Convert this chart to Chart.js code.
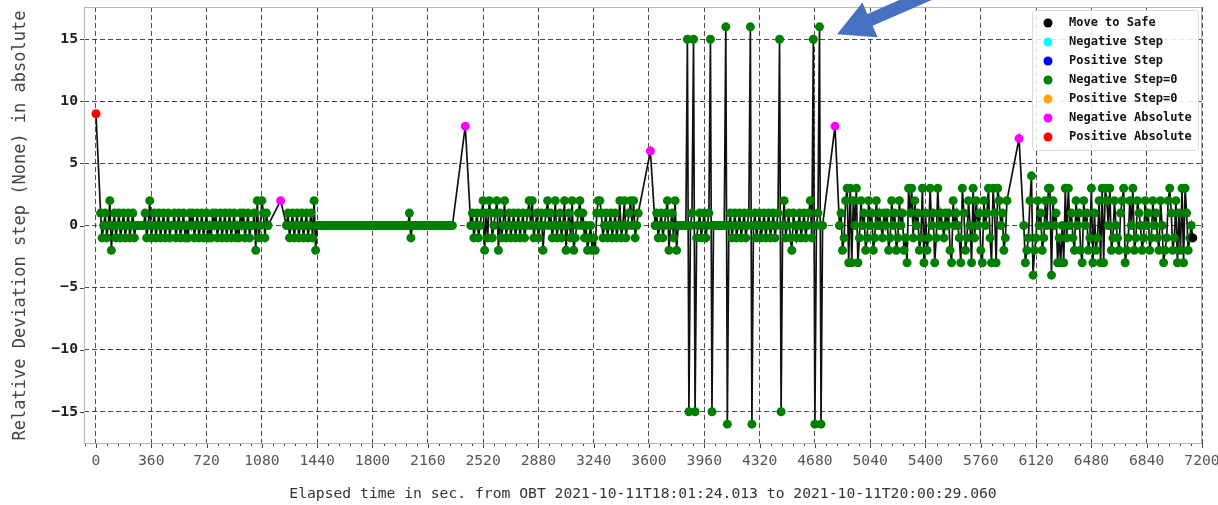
<!DOCTYPE html>
<html>
<head>
<meta charset="utf-8">
<title>Relative Deviation step</title>
<script src="https://cdn.jsdelivr.net/npm/chart.js@4.4.0/dist/chart.umd.min.js"></script>
<style>
  html, body { margin: 0; padding: 0; background: #fff; }
  #chart { display: block; }
</style>
</head>
<body>
<canvas id="chart" width="1218" height="505"></canvas>
<script>
/* ══════════════════════════════════════
   Relative deviation step vs elapsed time
   ══════════════════════════════════════ */

// ── Data ──
const SAMPLE_STEP = 10; // s between samples inside a block

const xTicks = [0, 360, 720, 1080, 1440, 1800, 2160, 2520, 2880, 3240, 3600,
                3960, 4320, 4680, 5040, 5400, 5760, 6120, 6480, 6840, 7200];
const yTicks = [-15, -10, -5, 0, 5, 10, 15];

// special points
const posAbsTimes  = [0];
const posAbsValues = [9];
const negAbsTimes  = [1202, 2404, 3609, 4811, 6009];
const negAbsValues = [2, 8, 6, 8, 7];
const safeTimes    = [7140];
const safeValues   = [-1];

// "Negative Step=0" samples, one block per busy period
const blockAStart = 30;
const blockA = [
  1, -1, 0, 1, -1, 0, 2, -2, 0, 1,
  -1, 0, 1, -1, 0, 1, -1, 0, 1, -1,
  0, 1, -1, 0, 0, 0, 0, 0, 0, 1,
  -1, 0, 2, -1, 0, 1, -1, 0, 1, -1,
  0, 1, -1, 0, 1, -1, 0, 0, 1, -1,
  0, 1, -1, 0, 1, -1, 0, -1, 1, 0,
  1, -1, 0, 1, -1, 0, 1, -1, 0, 1,
  -1, 0, -1, 1, 0, 1, -1, 0, 1, -1,
  0, 1, -1, 0, 1, -1, 0, 1, -1, 0,
  -1, 1, 0, 1, -1, 0, 1, -1, 0, 0,
  1, -2, 2, -1, 0, 2, 1, -1, 1, 0,
];

const blockBStart = 1240;
const blockB = [
  0, 1, -1, 0, 1, -1, 0, 1, -1, 0,
  1, -1, 0, 1, -1, 0, 1, -1, 2, -2,
  0,
];

const blockCStart = 1450;
const blockC = [
  0, 0, 0, 0, 0, 0, 0, 0, 0, 0, 0, 0, 0, 0, 0, 0, 0, 0, 0, 0,
  0, 0, 0, 0, 0, 0, 0, 0, 0, 0, 0, 0, 0, 0, 0, 0, 0, 0, 0, 0,
  0, 0, 0, 0, 0, 0, 0, 0, 0, 0, 0, 0, 0, 0, 0, 0, 0, 0, 0, 1, -1,
  0, 0, 0, 0, 0, 0, 0, 0, 0, 0, 0, 0, 0, 0, 0, 0, 0, 0, 0, 0,
  0, 0, 0, 0, 0, 0, 0,
];

const blockDStart = 2440;
const blockD = [
  0, 1, -1, 0, 1, -1, 0, 1, 2, -2,
  1, -1, 2, 1, -1, 0, 1, 2, -2, 1,
  -1, 0, 2, -1, 0, 1, -1, 0, 1, -1,
  0, 1, -1, 0, 1, -1, 0, 1, 2, 0,
  2, -1, 0, 1, -1, 0, 1, -2, 0, 1,
  2, 0, 1, -1, 0, 2, -1, 0, 1, -1,
  0, 2, -2, 0, 1, -1, 2, -2, -1, 0,
  1, 2, 0, 1, -1, 0, -2, -1, 0, -2,
  -1, -2, 1, 2, 2, 1, -1, 0, 1, -1,
  0, 1, -1, 0, 1, -1, 0, 2, -1, 0,
  2, -1, 0, 1, 2, 0, 2, -1, 0, 1,
];

const blockD2Start = 3640;
const blockD2 = [0, 1, -1, 0, 1, -1, 0, 1, 2, -2, 0, 1, -1, 2, -2, 0];

const blockEStart = 3800;
const blockE = [
  0, 0, 0, 0, 0, 15, -15, 0, 1, 15,
  -15, -1, 0, 1, -1, 0, 1, -1, 0, 1,
  15, -15, 0, 0, 0, 0, 0, 0, 0, 0,
  16, -16, 0, 1, -1, 0, 1, -1, 0, 1,
  -1, 0, 1, -1, 0, 1, 16, -16, 0, 1,
  -1, 0, 1, -1, 0, 1, -1, 0, 1, -1,
  0, 1, -1, 0, 1, 15, -15, 0, 2, -1,
  0, 1, -1, -2, 1, 0, -1, 0, 1, -1,
  0, 1, -1, 0, 1, 2, -1, 15, -16, 0,
  1, 16, -16, 0,
];

const blockFStart = 4840;
const blockF = [
  0, 1, -2, -1, 2,   3, -3, 3, -3, 2,   0, 3, -3, -1, 2,   0, 1, -2, -1, 2,   0, 1, -2, -1, 2,
  0, 1, 0, -1, 1,    0, 1, -2, -1, 2,   0, 1, -2, -1, 2,   0, 1, -2, -1, -3,  3, 1, 3, -1, 2,
  0, 1, -2, -1, 3,   -3, 1, -2, -1, 3,  0, 1, -3, -1, 3,   0, 1, 0, -1, 1,    0, 1, -2, -3, 2,
  0, 1, 0, -1, -3,   3, 1, -2, -1, 2,   0, -3, 3, -1, 2,   0, 1, -2, -3, 2,   0, 1, 3, -1, -3,
  3, 1, -3, 3, 2,    0, 1, -2, -1, 2,
];

const blockGStart = 6040;
const blockG = [
  0, -3, -2, -1, 2,  4, -4, -2, -1, 2,  0, 1, -2, -1, 2,   0, 3, 3, -4, 2,    0, 1, -3, -1, -3,
  0, -3, 3, -1, 3,   0, 1, -1, -2, 2,   0, 1, -2, -3, 2,   0, 1, -2, -1, 3,   -3, 1, -2, -1, 2,
  -3, 3, -3, 3, 2,   0, 3, -2, -1, 2,   0, -1, -2, 1, 2,   3, -3, -2, -1, 2,  0, 3, -2, -1, 2,
  1, 0, -2, -1, 2,   0, 1, -2, -1, 2,   0, 1, -1, -2, 2,   0, -3, -2, -1, 2,  3, 1, -2, -1, 2,
  -3, 1, -2, 3, -3,  3, 1, -2, -1, 0,
];

// arrow drawn over the plot (data coordinates)
const arrowTip  = { x: 4824, y: 15.4 };
const arrowTail = { x: 5527, y: 19.2 };

// ── Styles ──
const FONT = "'DejaVu Sans Mono', monospace";
const COLORS = {
  safe: '#000000', negStep: '#00ffff', posStep: '#0000ff', negStep0: '#008000',
  posStep0: '#ffa500', negAbs: '#ff00ff', posAbs: '#ff0000',
};

// ── Build points ──
const toPoints = (ts, vs) => ts.map((t, i) => ({ x: t, y: vs[i] }));

const blocks = [
  [blockAStart, blockA], [blockBStart, blockB], [blockCStart, blockC],
  [blockDStart, blockD], [blockD2Start, blockD2], [blockEStart, blockE],
  [blockFStart, blockF], [blockGStart, blockG],
];
const stepZeroPts = blocks.flatMap(([t0, vals]) =>
  vals.map((v, i) => ({ x: t0 + i * SAMPLE_STEP, y: v })));

const posAbsPts = toPoints(posAbsTimes, posAbsValues);
const negAbsPts = toPoints(negAbsTimes, negAbsValues);
const safePts   = toPoints(safeTimes, safeValues);

const linePts = [...stepZeroPts, ...posAbsPts, ...negAbsPts, ...safePts]
  .sort((a, b) => a.x - b.x);

function markerSet(label, color, data, order) {
  return {
    label, data, order,
    showLine: false,
    pointRadius: 4.5,
    pointBackgroundColor: color,
    pointBorderWidth: 0,
    pointHoverRadius: 4.5,
    backgroundColor: color,
  };
}

// ── Plugins ──
const frame = {
  id: 'frame',
  afterDraw(chart) {
    const { ctx, chartArea: a, scales: { x, y } } = chart;
    ctx.save();
    ctx.strokeStyle = '#b5b5b5';
    ctx.lineWidth = 1;
    ctx.strokeRect(a.left + 0.5, a.top + 0.5, a.right - a.left - 1, a.bottom - a.top - 1);

    // tick marks
    ctx.strokeStyle = '#444';
    ctx.beginPath();
    xTicks.forEach(v => {
      const px = Math.round(x.getPixelForValue(v)) + 0.5;
      ctx.moveTo(px, a.bottom); ctx.lineTo(px, a.bottom + 4);
    });
    const minor = (xTicks[1] - xTicks[0]) / 5;
    for (let v = xTicks[0] - minor; v <= x.max; v += minor) {
      if (v < x.min || xTicks.includes(v)) continue;
      const px = Math.round(x.getPixelForValue(v)) + 0.5;
      ctx.moveTo(px, a.bottom); ctx.lineTo(px, a.bottom + 2);
    }
    yTicks.forEach(v => {
      const py = Math.round(y.getPixelForValue(v)) + 0.5;
      ctx.moveTo(a.left - 4, py); ctx.lineTo(a.left, py);
    });
    ctx.stroke();
    ctx.restore();
  },
};

const innerLegend = {
  id: 'innerLegend',
  afterDraw(chart) {
    const { ctx, chartArea: a } = chart;
    const items = chart.data.datasets.filter(d => d.label);
    const w = 166, rowH = 19, h = items.length * rowH + 7;
    const left = a.right - w - 4, top = a.top + 3;
    ctx.save();
    ctx.fillStyle = 'rgba(255,255,255,0.85)';
    ctx.strokeStyle = '#d8d8d8';
    ctx.lineWidth = 1;
    ctx.beginPath();
    ctx.roundRect(left + 0.5, top + 0.5, w, h, 3);
    ctx.fill(); ctx.stroke();
    ctx.font = `bold 12px ${FONT}`;
    ctx.textBaseline = 'middle';
    items.forEach((d, i) => {
      const cy = top + 13 + i * rowH;
      ctx.fillStyle = d.backgroundColor;
      ctx.beginPath();
      ctx.arc(left + 16, cy, 4.5, 0, Math.PI * 2);
      ctx.fill();
      ctx.fillStyle = '#111';
      ctx.fillText(d.label, left + 37, cy);
    });
    ctx.restore();
  },
};

const pointer = {
  id: 'pointer',
  afterDraw(chart) {
    const { ctx, scales: { x, y } } = chart;
    const tip  = { x: x.getPixelForValue(arrowTip.x),  y: y.getPixelForValue(arrowTip.y) };
    const tail = { x: x.getPixelForValue(arrowTail.x), y: y.getPixelForValue(arrowTail.y) };
    const dx = tail.x - tip.x, dy = tail.y - tip.y, len = Math.hypot(dx, dy);
    const ux = dx / len, uy = dy / len, nx = -uy, ny = ux;
    const headLen = 36, headHalf = 19, shaftHalf = 6.5;
    const bx = tip.x + ux * headLen, by = tip.y + uy * headLen;
    ctx.save();
    ctx.fillStyle = '#4670c0';
    ctx.beginPath();
    ctx.moveTo(tip.x, tip.y);
    ctx.lineTo(bx + nx * headHalf, by + ny * headHalf);
    ctx.lineTo(bx + nx * shaftHalf, by + ny * shaftHalf);
    ctx.lineTo(tail.x + nx * shaftHalf, tail.y + ny * shaftHalf);
    ctx.lineTo(tail.x - nx * shaftHalf, tail.y - ny * shaftHalf);
    ctx.lineTo(bx - nx * shaftHalf, by - ny * shaftHalf);
    ctx.lineTo(bx - nx * headHalf, by - ny * headHalf);
    ctx.closePath();
    ctx.fill();
    ctx.restore();
  },
};

// ── Chart ──
const minus = v => (v < 0 ? '\u2212' + Math.abs(v) : String(v));

new Chart(document.getElementById('chart'), {
  type: 'scatter',
  data: {
    datasets: [
      markerSet('Move to Safe',      COLORS.safe,     safePts,     0),
      markerSet('Negative Step',     COLORS.negStep,  [],          1),
      markerSet('Positive Step',     COLORS.posStep,  [],          1),
      markerSet('Negative Step=0',   COLORS.negStep0, stepZeroPts, 2),
      markerSet('Positive Step=0',   COLORS.posStep0, [],          1),
      markerSet('Negative Absolute', COLORS.negAbs,   negAbsPts,   0),
      markerSet('Positive Absolute', COLORS.posAbs,   posAbsPts,   0),
      {
        data: linePts,
        order: 10,
        showLine: true,
        borderColor: '#111',
        borderWidth: 1.7,
        pointRadius: 0,
        pointHoverRadius: 0,
      },
    ],
  },
  options: {
    responsive: false,
    animation: false,
    devicePixelRatio: 1,
    layout: { padding: { top: 7, right: 16, bottom: 0, left: 0 } },
    plugins: {
      legend: { display: false },
      tooltip: { enabled: false },
    },
    scales: {
      x: {
        type: 'linear',
        min: -78,
        max: 7200,
        afterBuildTicks: s => { s.ticks = xTicks.map(v => ({ value: v })); },
        afterFit: s => { s.height = 61; s.paddingLeft = 0; s.paddingRight = 0; },
        ticks: {
          autoSkip: false, maxRotation: 0, padding: 8,
          callback: v => String(v),
          color: '#555', font: { family: FONT, size: 14.7 },
        },
        grid: { color: 'rgba(0,0,0,0.7)', lineWidth: 1, drawTicks: false },
        border: { display: false, dash: [5, 3] },
        title: {
          display: true,
          text: 'Elapsed time in sec. from OBT 2021-10-11T18:01:24.013 to 2021-10-11T20:00:29.060',
          color: '#333',
          font: { family: FONT, size: 14.7 },
          padding: { top: 0, bottom: 2 },
        },
      },
      y: {
        min: -17.6,
        max: 17.6,
        afterBuildTicks: s => { s.ticks = yTicks.map(v => ({ value: v })); },
        afterFit: s => { s.width = 84; s.paddingTop = 0; s.paddingBottom = 0; },
        ticks: {
          padding: 6, color: '#222', callback: minus,
          font: { family: FONT, size: 14.7, weight: 'bold' },
        },
        grid: { color: 'rgba(0,0,0,0.7)', lineWidth: 1, drawTicks: false },
        border: { display: false, dash: [5, 3] },
        title: {
          display: true,
          text: 'Relative Deviation step (None) in absolute',
          color: '#444',
          font: { family: FONT, size: 17 },
          padding: { top: 10, bottom: 0 },
        },
      },
    },
  },
  plugins: [frame, innerLegend, pointer],
});
</script>
</body>
</html>
